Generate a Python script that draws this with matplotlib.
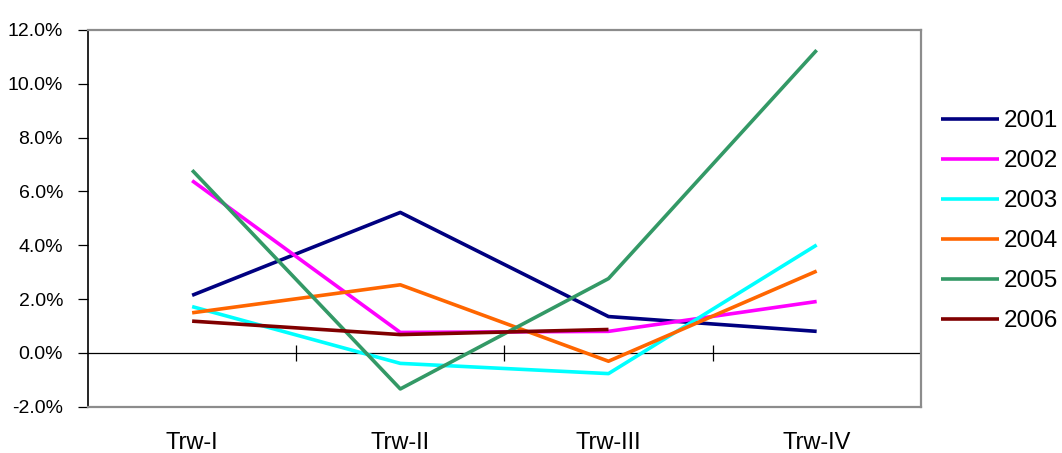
import numpy as np
import matplotlib
matplotlib.use("Agg")
import matplotlib.pyplot as plt

# ---------------------- data ----------------------
quarters = ["Trw-I", "Trw-II", "Trw-III", "Trw-IV"]
years = ["2001", "2002", "2003", "2004", "2005", "2006"]

v2001 = [2.14, 5.22, 1.35, 0.80]
v2002 = [6.40, 0.76, 0.80, 1.91]
v2003 = [1.72, -0.39, -0.77, 4.01]
v2004 = [1.49, 2.53, -0.31, 3.04]
v2005 = [6.79, -1.34, 2.76, 11.25]
v2006 = [1.18, 0.68, 0.87]          # no Trw-IV yet

colors = ["#000080", "#FF00FF", "#00FFFF", "#FF6600", "#339966", "#800000"]

# ---------------------- plot ----------------------
plt.rcParams["font.family"] = ["Liberation Sans", "DejaVu Sans"]

fig = plt.figure(figsize=(10.62, 4.53), dpi=100)
ax = fig.add_axes([0.0829, 0.1022, 0.7841, 0.8316])

series = [v2001, v2002, v2003, v2004, v2005, v2006]
x = np.arange(len(quarters))
for name, vals, c in zip(years, series, colors):
    ax.plot(x[:len(vals)], vals, color=c, lw=2.6, label=name, solid_capstyle="butt")

# x axis line at 0 with ticks between categories
ax.axhline(0, color="black", lw=0.9, zorder=1)
bounds = x + 0.5
ax.vlines(bounds, -0.3, 0.3, color="black", lw=0.9)

ax.set_xlim(-0.5, len(quarters) - 0.5)
ax.set_ylim(-2, 12)
ax.set_yticks(np.arange(-2, 12.1, 2))
ax.set_yticklabels([f"{v:.1f}%" for v in np.arange(-2, 12.1, 2)], fontsize=14)
ax.tick_params(axis="y", direction="out", length=7, width=0.9, pad=11)

ax.set_xticks(x)
ax.set_xticklabels(quarters, fontsize=17)
ax.tick_params(axis="x", length=0, pad=18)

for s in ["top", "right", "bottom"]:
    ax.spines[s].set_color("#8c8c8c")
    ax.spines[s].set_linewidth(1.6)
ax.spines["left"].set_color("black")
ax.spines["left"].set_linewidth(1.2)

fig.legend(loc="upper left", bbox_to_anchor=(0.886, 0.757), frameon=False,
           fontsize=17.5, handlelength=2.4, handletextpad=0.2, labelspacing=0.74,
           borderaxespad=0, borderpad=0)

fig.savefig("out.png", dpi=100, facecolor="white")
